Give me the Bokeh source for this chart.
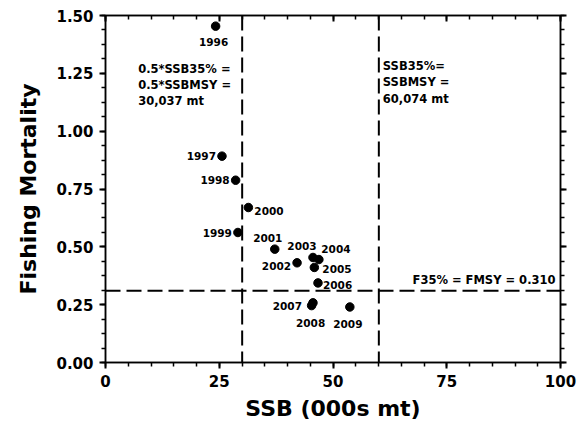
from bokeh.plotting import figure
from bokeh.models import (Range1d, LinearAxis, SingleIntervalTicker, NumeralTickFormatter,
                          Span, Label, ColumnDataSource, CustomJSTickFormatter)
from bokeh.core.properties import value
from bokeh.embed import file_html
from bokeh.resources import INLINE

# ---- data ----
years = ["1996", "1997", "1998", "1999", "2000", "2001", "2002", "2003",
         "2004", "2005", "2006", "2007", "2008", "2009"]
ssb = [24.2, 25.6, 28.6, 29.1, 31.4, 37.2, 42.1, 45.6, 46.9, 45.9, 46.7, 45.6, 45.3, 53.7]
fmort = [1.454, 0.892, 0.788, 0.562, 0.670, 0.490, 0.431, 0.454, 0.445, 0.411, 0.344,
         0.258, 0.246, 0.240]
half_ssbmsy = 30.037
ssbmsy = 60.074
fmsy = 0.310
x_ticks_interval = 25
y_ticks_interval = 0.25

# ---- label placement (screen px, style only) ----
lab_dx = [-2, -6, -6, -6, 6, -7, -6, -11, 17, 8, 5, -11, -1, -2]
lab_dy = [16, 0, 0, 1, 3, -11, 3, -11, -11, 2, 2, 3, 17, 17]
lab_align = ["center", "right", "right", "right", "left", "center", "right", "center",
             "center", "left", "left", "right", "center", "center"]

FONT = "DejaVu Sans"

p = figure(width=584, height=431, output_backend="svg", toolbar_location=None,
           x_range=Range1d(0, 100), y_range=Range1d(0, 1.5),
           min_border_left=105, min_border_right=24, min_border_top=15, min_border_bottom=69)
p.outline_line_color = "black"
p.outline_line_width = 1.5
p.xgrid.visible = False
p.ygrid.visible = False
p.background_fill_color = "white"
p.border_fill_color = "white"

def style_axis(ax):
    ax.axis_line_width = 1.5
    ax.axis_line_color = "black"
    ax.major_tick_line_width = 2
    ax.minor_tick_line_width = 1.5
    ax.major_tick_line_color = "black"
    ax.minor_tick_line_color = "black"
    ax.major_tick_out = 6
    ax.major_tick_in = 0
    ax.minor_tick_out = 4
    ax.minor_tick_in = 0
    ax.major_label_text_font = FONT
    ax.major_label_text_font_style = "bold"
    ax.major_label_text_font_size = "15px"
    ax.major_label_text_color = "black"
    ax.axis_label_text_font = FONT
    ax.axis_label_text_font_style = "bold"
    ax.axis_label_text_font_size = "22px"
    ax.axis_label_text_color = "black"

p.xaxis.ticker = SingleIntervalTicker(interval=x_ticks_interval, num_minor_ticks=5)
p.yaxis.ticker = SingleIntervalTicker(interval=y_ticks_interval, num_minor_ticks=4)
p.yaxis.formatter = NumeralTickFormatter(format="0.00")
p.xaxis.axis_label = "SSB (000s mt)"
p.yaxis.axis_label = "Fishing Mortality"
style_axis(p.xaxis[0])
style_axis(p.yaxis[0])
p.xaxis.major_label_standoff = 6
p.yaxis.major_label_standoff = 6
p.xaxis.axis_label_standoff = 6
p.yaxis.axis_label_standoff = 12

blank = CustomJSTickFormatter(code="return ''")

top = LinearAxis(ticker=SingleIntervalTicker(interval=x_ticks_interval, num_minor_ticks=5),
                 formatter=blank)
style_axis(top)
top.major_tick_out = 0
top.major_tick_in = 6
top.minor_tick_out = 0
top.minor_tick_in = 4
top.major_label_standoff = 0
p.add_layout(top, "above")

right = LinearAxis(ticker=SingleIntervalTicker(interval=y_ticks_interval, num_minor_ticks=4),
                   formatter=blank)
style_axis(right)
right.major_label_standoff = 0
p.add_layout(right, "right")

# reference lines
for xv in (half_ssbmsy, ssbmsy):
    p.add_layout(Span(location=xv, dimension="height", line_color="black",
                      line_width=2, line_dash="15 6"))
p.add_layout(Span(location=fmsy, dimension="width", line_color="black",
                  line_width=2, line_dash="15 6"))

src = ColumnDataSource(dict(x=ssb, y=fmort, year=years, dx=lab_dx, dy=lab_dy, al=lab_align))
p.scatter("x", "y", source=src, size=8.5, color="black")
p.text("x", "y", text="year", source=src, x_offset="dx", y_offset="dy",
       text_align="al", text_baseline="middle", text_font=value(FONT),
       text_font_style="bold", text_font_size="10.5px", text_color="black")

def ann(txt, x, xoff, y, yoff, align="left"):
    p.add_layout(Label(x=x, y=y, x_offset=xoff, y_offset=yoff, text=txt,
                       text_align=align, text_baseline="middle", text_font=FONT,
                       text_font_style="bold", text_font_size="11.5px",
                       text_color="black"))

rows_left = ["0.5*SSB35% =", "0.5*SSBMSY =", "30,037 mt"]
rows_right = ["SSB35%=", "SSBMSY =", "60,074 mt"]
for i, t in enumerate(rows_left):
    ann(t, half_ssbmsy, -104, 1.5, -(53 + 16 * i))
for i, t in enumerate(rows_right):
    ann(t, ssbmsy, 4, 1.5, -(50 + 16.5 * i))
ann("F35% = FMSY = 0.310", 100, -5, fmsy, 11, align="right")

open("out.html", "w").write(file_html(p, INLINE))
